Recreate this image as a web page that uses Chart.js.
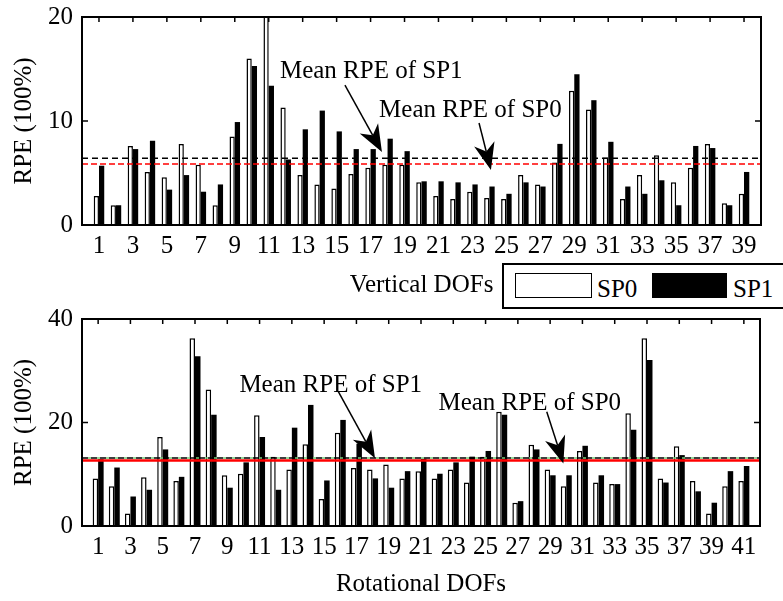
<!DOCTYPE html>
<html>
<head>
<meta charset="utf-8">
<title>RPE of SP0 and SP1</title>
<script src="https://cdn.jsdelivr.net/npm/chart.js@4.4.1/dist/chart.umd.min.js"></script>
<style>
  body { margin: 0; background: #fff; }
  #wrap { position: relative; width: 783px; height: 601px; overflow: hidden; }
  canvas { position: absolute; left: 0; }
  #topChart { top: 0; }
  #bottomChart { top: 300px; }
  .legend {
    position: absolute; left: 502px; top: 263px; width: 300px; height: 46px;
    border: 2px solid #000; box-sizing: border-box; background: #fff;
    font: 25px 'Liberation Serif', 'Times New Roman', serif; color: #000;
  }
  .legend .swatch { position: absolute; top: 8px; height: 25px; box-sizing: border-box; border: 1.5px solid #000; }
  .legend .label { position: absolute; top: 11px; line-height: 25px; }
</style>
</head>
<body>
<div id="wrap">
  <canvas id="topChart" width="783" height="300"></canvas>
  <canvas id="bottomChart" width="783" height="301"></canvas>
  <div class="legend">
    <div class="swatch" style="left:11px; width:77px; background:#fff;"></div>
    <span class="label" style="left:93px;">SP0</span>
    <div class="swatch" style="left:148px; width:75px; background:#000;"></div>
    <span class="label" style="left:229px;">SP1</span>
  </div>
</div>
<script>
// Vertical DOFs
const verticalDofs = [1, 2, 3, 4, 5, 6, 7, 8, 9, 10, 11, 12, 13, 14, 15, 16, 17, 18, 19, 20,
  21, 22, 23, 24, 25, 26, 27, 28, 29, 30, 31, 32, 33, 34, 35, 36, 37, 38, 39];
const sp0Vertical = [2.8, 1.9, 7.6, 5.1, 4.6, 7.8, 5.8, 1.9, 8.5, 16.0, 21.5, 11.3, 4.8, 3.9, 3.5, 4.9, 5.5, 5.8, 5.8, 4.1,
  2.8, 2.5, 3.2, 2.6, 2.5, 4.8, 3.9, 6.0, 12.9, 11.1, 6.5, 2.5, 4.8, 6.7, 4.1, 5.5, 7.8, 2.1, 3.0];
const sp1Vertical = [5.7, 1.9, 7.3, 8.1, 3.4, 4.8, 3.2, 3.9, 9.9, 15.3, 13.4, 6.3, 9.2, 11.0, 9.0, 7.3, 7.3, 8.3, 7.1, 4.2,
  4.2, 4.1, 3.9, 3.7, 3.0, 4.1, 3.7, 7.8, 14.5, 12.0, 8.0, 3.7, 3.0, 4.3, 1.9, 7.6, 7.4, 1.9, 5.1];
const verticalTicks = [1, 3, 5, 7, 9, 11, 13, 15, 17, 19, 21, 23, 25, 27, 29, 31, 33, 35, 37, 39];

// Rotational DOFs
const rotationalDofs = [1, 2, 3, 4, 5, 6, 7, 8, 9, 10, 11, 12, 13, 14, 15, 16, 17, 18, 19, 20,
  21, 22, 23, 24, 25, 26, 27, 28, 29, 30, 31, 32, 33, 34, 35, 36, 37, 38, 39, 40, 41];
const sp0Rotational = [9.2, 7.7, 2.4, 9.4, 17.2, 8.7, 36.3, 26.4, 9.8, 10.1, 21.4, 13.4, 10.9, 15.8, 5.2, 18.0, 11.2, 10.9, 11.9, 9.2,
  10.6, 9.2, 10.9, 8.4, 13.4, 22.1, 4.5, 15.7, 10.9, 7.7, 14.5, 8.4, 8.1, 21.8, 36.3, 9.2, 15.4, 8.7, 2.4, 7.7, 8.7];
const sp1Rotational = [12.9, 11.3, 5.7, 7.0, 14.8, 9.5, 32.8, 21.5, 7.4, 12.3, 17.2, 7.0, 19.0, 23.4, 8.8, 20.5, 15.9, 9.2, 7.4, 10.6,
  13.0, 10.1, 12.3, 13.4, 14.5, 21.5, 4.8, 14.8, 9.8, 9.8, 15.5, 9.8, 8.1, 18.6, 32.1, 8.4, 13.7, 6.7, 4.5, 10.6, 11.6];
const rotationalTicks = [1, 3, 5, 7, 9, 11, 13, 15, 17, 19, 21, 23, 25, 27, 29, 31, 33, 35, 37, 39, 41];

const fontFamily = "'Liberation Serif', 'Times New Roman', serif";
Chart.defaults.font.family = fontFamily;
Chart.defaults.font.size = 25;
Chart.defaults.color = '#000';

const mean = (arr) => arr.reduce((a, b) => a + b, 0) / arr.length;

// box around the plot with inward ticks (top, left, right)
const framePlugin = {
  id: 'frame',
  afterDatasetsDraw(chart) {
    const {ctx, chartArea: a, scales: {x, y}} = chart;
    ctx.save();
    ctx.strokeStyle = '#000';
    ctx.lineWidth = 1.5;
    ctx.beginPath();
    x.ticks.forEach(t => {
      const px = x.getPixelForValue(t.value);
      ctx.moveTo(px, a.top);
      ctx.lineTo(px, a.top + 5);
    });
    y.ticks.forEach(t => {
      if (t.value === y.min || t.value === y.max) return;
      const py = y.getPixelForValue(t.value);
      ctx.moveTo(a.left, py); ctx.lineTo(a.left + 6, py);
      ctx.moveTo(a.right, py); ctx.lineTo(a.right - 6, py);
    });
    ctx.stroke();
    ctx.lineWidth = 2;
    ctx.strokeRect(a.left, a.top, a.right - a.left, a.bottom - a.top);
    ctx.restore();
  }
};

// horizontal mean lines
const meanLinePlugin = {
  id: 'meanLines',
  afterDatasetsDraw(chart, args, opts) {
    const {ctx, chartArea: a, scales: {y}} = chart;
    ctx.save();
    opts.lines.forEach(l => {
      const py = y.getPixelForValue(l.value);
      ctx.strokeStyle = l.color;
      ctx.lineWidth = l.width;
      ctx.setLineDash(l.dash);
      ctx.lineDashOffset = l.offset || 0;
      ctx.beginPath();
      ctx.moveTo(a.left, py);
      ctx.lineTo(a.right, py);
      ctx.stroke();
    });
    ctx.restore();
  }
};

function drawArrow(ctx, x0, y0, x1, y1) {
  const ang = Math.atan2(y1 - y0, x1 - x0);
  const len = 27, half = 10.5, notch = 8;
  ctx.beginPath();
  ctx.moveTo(x0, y0);
  ctx.lineTo(x1 - Math.cos(ang) * (len - notch), y1 - Math.sin(ang) * (len - notch));
  ctx.stroke();
  ctx.save();
  ctx.translate(x1, y1);
  ctx.rotate(ang);
  ctx.beginPath();
  ctx.moveTo(0, 0);
  ctx.lineTo(-len, -half);
  ctx.lineTo(-len + notch, 0);
  ctx.lineTo(-len, half);
  ctx.closePath();
  ctx.fill();
  ctx.restore();
}

// text labels with arrows, placed in data coordinates
const notePlugin = {
  id: 'notes',
  afterDraw(chart, args, opts) {
    const {ctx, scales: {x, y}} = chart;
    ctx.save();
    ctx.fillStyle = '#000';
    ctx.strokeStyle = '#000';
    ctx.lineWidth = 1.5;
    ctx.font = '25px ' + fontFamily;
    ctx.textAlign = 'left';
    ctx.textBaseline = 'alphabetic';
    opts.notes.forEach(n => {
      ctx.fillText(n.text, x.getPixelForValue(n.at[0]), y.getPixelForValue(n.at[1]));
      drawArrow(ctx,
        x.getPixelForValue(n.from[0]), y.getPixelForValue(n.from[1]),
        x.getPixelForValue(n.to[0]), y.getPixelForValue(n.to[1]));
    });
    ctx.restore();
  }
};

function makeChart(id, cfg) {
  const points = (vals) => cfg.dofs.map((d, i) => ({x: d, y: vals[i]}));
  return new Chart(document.getElementById(id), {
    type: 'bar',
    data: {
      datasets: [{
        label: 'SP0',
        data: points(cfg.sp0),
        backgroundColor: '#fff',
        borderColor: '#000',
        borderWidth: 1.5,
        borderSkipped: 'bottom'
      }, {
        label: 'SP1',
        data: points(cfg.sp1),
        backgroundColor: '#000',
        borderColor: '#000',
        borderWidth: 0
      }]
    },
    options: {
      responsive: false,
      animation: false,
      devicePixelRatio: 1,
      events: [],
      categoryPercentage: cfg.groupWidth,
      barPercentage: 1.0,
      layout: {padding: cfg.padding},
      plugins: {
        legend: {display: false},
        tooltip: {enabled: false},
        meanLines: {lines: cfg.meanLines},
        notes: {notes: cfg.notes}
      },
      scales: {
        x: {
          type: 'linear',
          min: 0,
          max: cfg.xMax,
          offset: false,
          grid: {display: false, drawTicks: false},
          border: {display: false},
          afterBuildTicks: (s) => { s.ticks = cfg.ticks.map(v => ({value: v})); },
          afterFit: (s) => { s.height = 75; },
          ticks: {autoSkip: false, maxRotation: 0, padding: 6, callback: (v) => String(v)},
          title: {display: true, text: cfg.xTitle, padding: {top: 0, bottom: cfg.titlePad}}
        },
        y: {
          min: 0,
          max: cfg.yMax,
          grid: {display: false, drawTicks: false},
          border: {display: false},
          afterFit: (s) => { s.width = 82; s.paddingTop = 0; s.paddingBottom = 0; },
          ticks: {stepSize: cfg.yStep, padding: 9},
          title: {display: true, text: 'RPE (100%)', padding: {top: 9, bottom: 0}}
        }
      }
    },
    plugins: [meanLinePlugin, framePlugin, notePlugin]
  });
}

makeChart('topChart', {
  dofs: verticalDofs, sp0: sp0Vertical, sp1: sp1Vertical, ticks: verticalTicks,
  xMax: 40, yMax: 20, yStep: 10, groupWidth: 0.62,
  xTitle: 'Vertical DOFs', titlePad: 0,
  padding: {top: 17, right: 22, left: 0, bottom: 0},
  meanLines: [
    {value: mean(sp0Vertical), color: '#f00', width: 1.5, dash: [6, 3]},
    {value: mean(sp1Vertical), color: '#000', width: 1.5, dash: [6, 4]}
  ],
  notes: [
    {text: 'Mean RPE of SP1', at: [11.66, 14.13], from: [15.49, 13.46], to: [17.67, 7.02]},
    {text: 'Mean RPE of SP0', at: [17.5, 10.38], from: [23.39, 9.81], to: [24.09, 5.29]}
  ]
});

makeChart('bottomChart', {
  dofs: rotationalDofs, sp0: sp0Rotational, sp1: sp1Rotational, ticks: rotationalTicks,
  xMax: 42, yMax: 40, yStep: 20, groupWidth: 0.68,
  xTitle: 'Rotational DOFs', titlePad: 2,
  padding: {top: 19, right: 23, left: 0, bottom: 0},
  meanLines: [
    {value: mean(sp0Rotational), color: '#f00', width: 2.5, dash: []},
    {value: mean(sp1Rotational), color: '#7c7', width: 1.5, dash: [3, 6], offset: -6},
    {value: mean(sp1Rotational), color: '#000', width: 1.5, dash: [6, 3]}
  ],
  notes: [
    {text: 'Mean RPE of SP1', at: [9.75, 25.95], from: [15.88, 25.95], to: [18.15, 13.08]},
    {text: 'Mean RPE of SP0', at: [22.08, 22.4], from: [28.79, 22.09], to: [29.82, 12.1]}
  ]
});
</script>
</body>
</html>
